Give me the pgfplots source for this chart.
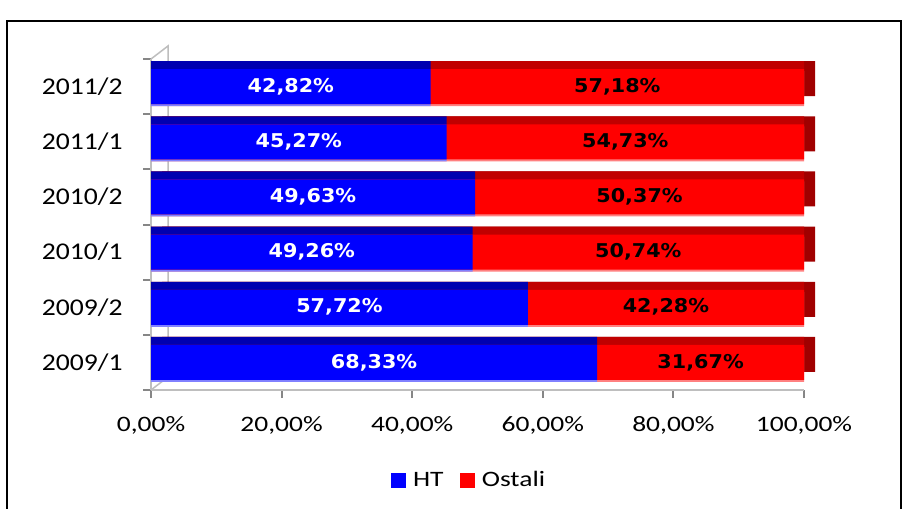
\documentclass[border=0pt]{standalone}
\usepackage{pgfplots}
\pgfplotsset{compat=1.18}
\usepackage{pgfplotstable}
\usepackage{fontspec}
\setmainfont{Carlito}[FakeStretch=1.2]
\newfontfamily\xf{Carlito}[FakeStretch=1.25]
\newfontfamily\yf{Carlito}[FakeStretch=1.15]
\newfontfamily\barfont{DejaVu Sans}[FakeStretch=1.09]
\definecolor{htblue}{RGB}{0,0,255}
\definecolor{httop}{RGB}{0,0,176}
\definecolor{htlight}{RGB}{128,128,255}
\definecolor{ored}{RGB}{255,0,0}
\definecolor{otop}{RGB}{192,0,0}
\definecolor{oside}{RGB}{160,0,0}
\definecolor{olight}{RGB}{255,128,128}
\definecolor{axgray}{RGB}{134,134,134}
\definecolor{axlight}{RGB}{190,190,190}
\pgfplotstableread{
pos ht ost
0 68.33 31.67
1 57.72 42.28
2 49.26 50.74
3 49.63 50.37
4 45.27 54.73
5 42.82 57.18
}\datatable
\begin{document}
\begin{tikzpicture}
\useasboundingbox (0bp,0bp) rectangle (906bp,509bp);
\fill[white] (0bp,0bp) rectangle (906bp,509bp);
\draw[black, line width=2.5bp] (7bp,-5bp) -- (7bp,488bp) -- (901bp,488bp) -- (901bp,-5bp);
\begin{axis}[
  at={(151bp,119bp)}, anchor=south west, scale only axis,
  width=653bp, height=331bp,
  xmin=0, xmax=100, ymin=-0.5, ymax=5.5, clip=false,
  axis x line*=bottom, axis y line*=left,
  x axis line style={axlight, line width=2.5bp},
  y axis line style={axlight, line width=2bp},
  xtick={0,20,...,100},
  xticklabels={{0,00\%},{20,00\%},{40,00\%},{60,00\%},{80,00\%},{100,00\%}},
  ytick={0,...,5},
  yticklabels={2009/1,2009/2,2010/1,2010/2,2011/1,2011/2},
  minor ytick={-0.5,0.5,...,5.5},
  tick align=outside, major tick length=8bp, minor tick length=8bp,
  major x tick style={axgray, line width=2bp},
  major y tick style={draw=none},
  minor y tick style={axgray, line width=2bp},
  xticklabel style={font=\xf\fontsize{22bp}{26bp}\selectfont, text=black, yshift=-15bp},
  yticklabel style={font=\yf\fontsize{24bp}{28bp}\selectfont, text=black, xshift=-17bp},
  legend style={at={(0.487,-0.272)}, anchor=center, draw=none, fill=none,
    font=\xf\fontsize{22bp}{26bp}\selectfont,
    /tikz/every even column/.append style={column sep=14bp}},
  legend columns=2,
  legend image code/.code={\fill[#1, draw=none] (0bp,-7.5bp) rectangle (15bp,7.5bp); \path (20bp,0bp);},
]
% back wall of the 3D frame
\draw[axlight, line width=1.5bp] (axis cs:0,5.5) -- ++(17bp,13bp) -- ([shift={(17bp,13bp)}]axis cs:0,-0.5) -- (axis cs:0,-0.5);
% side faces
\addplot[xbar, bar width=35bp, bar shift=0pt, fill=oside, draw=none, forget plot, xshift=11bp, yshift=8bp]
  table[x expr=\thisrow{ht}+\thisrow{ost}, y=pos]{\datatable};
% top faces
\addplot[xbar, bar width=35bp, bar shift=0pt, fill=otop, draw=none, forget plot, yshift=8bp]
  table[x expr=\thisrow{ht}+\thisrow{ost}, y=pos]{\datatable};
\addplot[xbar, bar width=35bp, bar shift=0pt, fill=httop, draw=none, forget plot, yshift=8bp]
  table[x=ht, y=pos]{\datatable};
% light lower edges
\addplot[xbar, bar width=35bp, bar shift=0pt, fill=olight, draw=none, forget plot, yshift=-2bp]
  table[x expr=\thisrow{ht}+\thisrow{ost}, y=pos]{\datatable};
\addplot[xbar, bar width=35bp, bar shift=0pt, fill=htlight, draw=none, forget plot, yshift=-2bp]
  table[x=ht, y=pos]{\datatable};
% front faces
\addplot[xbar, bar width=35bp, bar shift=0pt, fill=ored, draw=none, forget plot]
  table[x expr=\thisrow{ht}+\thisrow{ost}, y=pos]{\datatable};
\addplot[xbar, bar width=35bp, bar shift=0pt, fill=htblue, draw=none, forget plot]
  table[x=ht, y=pos]{\datatable};
% value labels
\addplot[only marks, mark=none, forget plot, point meta=explicit,
  nodes near coords={\pgfmathprintnumber[fixed,fixed zerofill,precision=2,use comma,assume math mode=true]{\pgfplotspointmeta}\%},
  every node near coord/.append style={anchor=center, text=white,
    font=\barfont\bfseries\fontsize{19bp}{22bp}\selectfont}]
  table[x expr=\thisrow{ht}/2, y=pos, meta=ht]{\datatable};
\addplot[only marks, mark=none, forget plot, point meta=explicit,
  nodes near coords={\pgfmathprintnumber[fixed,fixed zerofill,precision=2,use comma,assume math mode=true]{\pgfplotspointmeta}\%},
  every node near coord/.append style={anchor=center, text=black,
    font=\barfont\bfseries\fontsize{19bp}{22bp}\selectfont}]
  table[x expr=\thisrow{ht}+\thisrow{ost}/2, y=pos, meta=ost]{\datatable};
\addlegendimage{fill=htblue}
\addlegendentry{HT}
\addlegendimage{fill=ored}
\addlegendentry{Ostali}
\end{axis}
\end{tikzpicture}
\end{document}
